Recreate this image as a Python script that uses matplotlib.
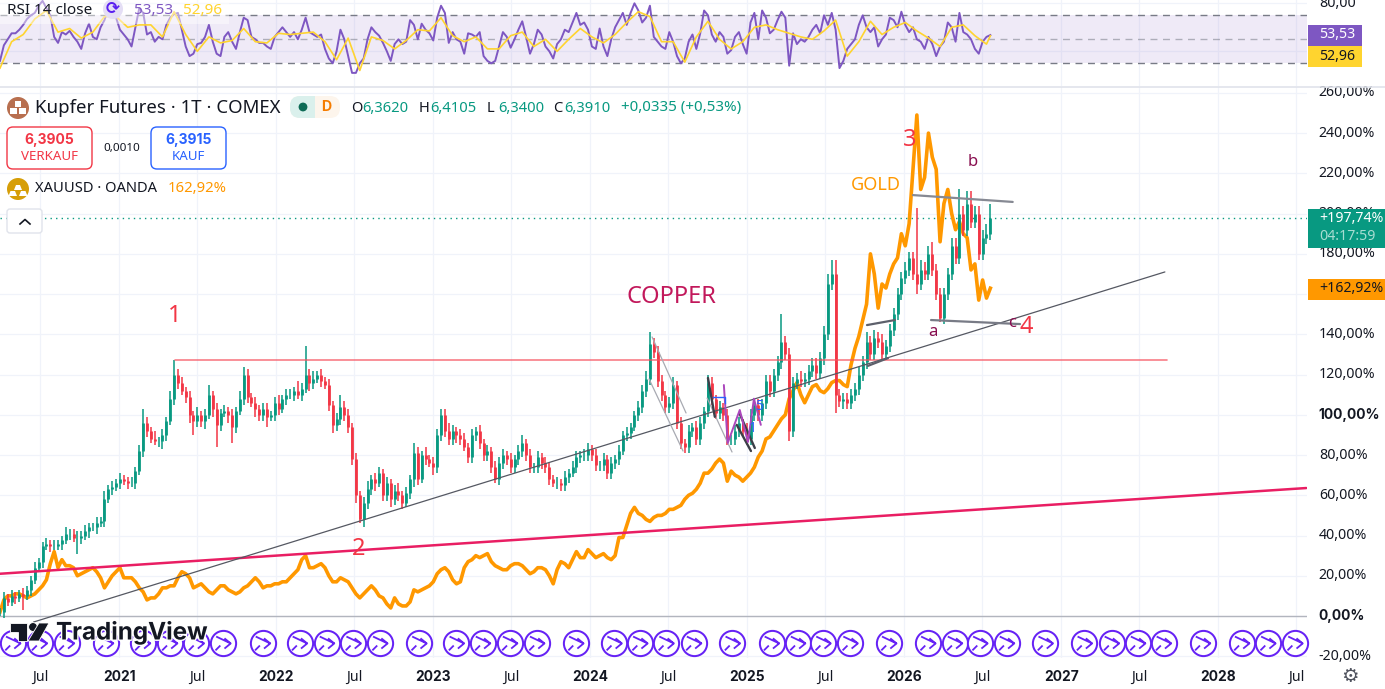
import numpy as np
import pandas as pd
import matplotlib
matplotlib.use("Agg")
import matplotlib.pyplot as plt
import matplotlib.dates as mdates
from matplotlib.patches import FancyBboxPatch, Rectangle, Circle, Polygon
from matplotlib.path import Path
import matplotlib.patheffects as pe

plt.rcParams['font.family'] = ['Noto Sans', 'DejaVu Sans']

# ---- data ----
start_date = '2020-03-29'
bar_days = 9

copper_close = [
 2,9,7,10,9,11,10,13,18,24, 27,35,36,35,35,36,38,41,41,39,
 39,40,42,44,44,46,47,58,63,64, 66,68,67,66,66,72,82,96,92,88,
 87,87,90,97,108,120,116,112,109,100, 97,100,97,100,110,103,95,101,102,100,
 94,102,108,120,109,106,103,100,103,99, 100,106,103,108,110,110,112,110,113,120,
 116,118,120,117,115,105,95,98,104,100, 94,78,60,48,56,63,68,66,71,60,
 66,58,62,60,56,61,68,81,68,80, 78,76,74,90,100,92,88,92,90,88,
 84,79,90,92,86,80,82,74,68,76, 80,78,74,78,82,86,80,74,74,79,
 76,74,68,66,66,65,69,71,74,79, 80,80,83,80,75,75,78,71,76,78,
 82,90,91,94,100,104,112,118,135,131, 117,110,104,106,115,96,86,84,92,94,
 88,96,102,116,108,101,104,100,88,88, 92,96,92,88,100,105,100,106,117,112,
 120,126,136,130,92,116,118,117,118,122, 125,121,128,140,165,170,110,107,108,106,
 110,113,120,126,136,130,138,136,130,134, 142,150,160,168,172,178,170,165,172,170,
 180,172,160,148,160,170,184,178,200,192, 205,196,200,180,188,190,197.74]

copper_wick_up = [
 2,3,2,3,2,2,3,2,2,3, 2,2,3,2,3,2,2,3,2,2,
 3,2,3,2,2,3,2,4,2,3, 2,3,2,2,3,2,3,7,3,2,
 4,2,3,2,4,7,3,3,2,3, 2,4,2,3,5,2,3,2,3,2,
 3,2,4,4,3,2,3,2,3,3, 2,3,4,2,3,3,2,5,3,14,
 3,4,2,3,2,3,2,3,6,3, 3,2,3,2,3,4,2,3,3,2,
 3,2,3,4,2,3,2,5,3,2, 4,2,3,3,3,3,4,3,2,3,
 3,2,3,2,3,2,3,2,3,3, 3,2,3,2,3,4,2,3,2,3,
 2,3,2,2,3,2,3,2,3,3, 2,3,3,2,3,2,3,2,3,2,
 3,2,3,2,2,3,3,4,6,3, 3,3,2,3,4,2,3,2,3,2,
 3,3,2,4,3,2,3,2,3,2, 3,3,2,4,3,2,3,2,3,3,
 3,3,14,3,3,3,3,4,3,3, 3,3,3,4,5,7,7,3,3,3,
 3,3,4,3,5,3,4,3,4,3, 3,3,3,3,4,3,3,33,5,4,
 4,6,3,3,3,3,4,4,12,4, 6,6,4,4,4,5,7]

copper_wick_dn = [
 2,3,2,2,3,2,7,2,3,2, 2,3,2,3,2,2,3,2,3,2,
 8,3,2,3,2,3,2,3,2,3, 2,3,2,3,2,3,2,3,3,2,
 2,3,4,3,2,3,3,2,3,4, 7,3,3,4,2,4,11,3,2,4,
 8,3,2,3,3,2,4,3,3,5, 2,3,3,2,3,2,3,2,3,2,
 4,3,2,3,2,3,4,3,3,3, 3,3,4,2,4,3,3,4,2,3,
 3,4,3,3,3,2,3,4,3,2, 3,2,4,3,3,3,3,3,4,3,
 2,3,3,3,3,3,3,3,2,3, 3,3,3,3,3,3,3,3,3,3,
 3,3,3,2,3,3,3,3,2,3, 3,3,3,3,3,3,3,3,3,3,
 3,2,3,3,2,3,3,3,3,3, 3,3,3,3,3,3,3,3,3,3,
 3,3,3,3,3,3,3,3,3,3, 3,3,3,3,3,3,3,3,3,3,
 3,3,3,3,5,3,3,3,3,3, 3,3,3,3,3,3,9,3,4,3,
 3,3,3,3,3,3,3,3,3,3, 3,3,3,3,3,3,3,5,3,3,
 3,3,3,2,3,3,3,3,3,3, 3,3,3,3,3,3,3]

gold_pct = [
 2,8,10,10,11,11,10,9,10,11, 13,15,18,26,32,24,28,25,25,24,
 20,21,22,23,24,22,19,14,17,20, 22,24,19,19,19,17,14,12,8,9,
 9,11,14,14,15,15,19,22,21,19, 14,15,16,14,12,11,13,15,15,13,
 12,11,12,14,15,17,19,17,14,15, 15,16,16,17,17,19,21,23,28,30,
 24,24,25,26,24,20,17,17,19,18, 17,14,11,9,11,13,15,13,10,9,
 6,4,9,6,5,5,7,13,12,13, 14,15,17,21,23,24,22,18,16,17,
 24,27,28,30,29,30,31,27,25,24, 23,23,25,26,26,25,23,21,22,24,
 24,23,20,16,23,27,26,24,28,32, 29,29,33,31,29,30,31,29,28,30,
 39,39,45,51,54,51,50,48,47,49, 50,50,51,53,53,54,55,58,60,61,
 63,66,71,71,73,76,78,76,67,72, 70,69,67,69,71,74,79,82,88,89,
 92,95,98,100,108,112,116,110,106,110, 114,115,112,111,113,116,117,117,115,114,
 125,133,139,147,155,180,170,153,165,163, 170,175,178,190,184,195,222,249,212,218,
 240,228,222,186,205,212,200,192,196,190, 188,172,175,157,167,158,162.92]

rsi_values = [
 32,45,50,55,55,58,62,67,70,72, 78,82,76,70,52,47,56,54,57,52,
 48,42,55,63,52,50,60,66,76,79, 68,58,54,50,44,60,76,72,54,56,
 48,52,50,62,68,71,72,58,44,36, 38,46,47,52,62,48,38,36,52,56,
 48,42,56,68,66,52,50,47,47,44, 42,52,56,60,56,52,56,50,58,68,
 56,54,52,54,42,34,30,40,58,50, 36,22,22,30,34,50,60,56,53,47,
 40,32,46,50,46,48,66,62,50,63, 58,55,49,68,78,72,47,56,50,48,
 38,55,54,52,56,36,32,30,32,44, 56,52,43,50,58,65,52,38,46,58,
 54,44,40,34,46,50,58,56,64,72, 62,64,58,44,42,59,44,36,50,60,
 66,72,62,72,80,74,64,68,78,52, 48,44,42,56,48,36,30,34,48,54,
 42,55,74,70,54,48,56,52,38,41, 52,56,46,38,64,72,50,74,68,55,
 58,66,73,68,28,55,46,50,48,52, 58,62,55,70,62,72,58,26,32,42,
 46,50,62,70,60,56,60,44,50,54, 68,66,60,73,62,56,60,50,48,42,
 52,46,36,44,48,64,60,48,72,56, 54,50,42,38,48,52,53.53]

# moving average, one value per three bars plus the last bar
rsi_ma = [
 26,48,54,67,74,56,59,51,56,69,69,60,62,62,52,73,54,40,52,47,49,59,48,47,55,54,55,56,48,33,51,
 24,52,49,42,49,58,57,68,53,48,52,42,42,53,56,44,50,40,50,59,52,47,54,64,73,69,48,48,31,
 52,65,50,42,48,60,62,58,55,52,50,57,66,36,48,65,54,60,64,57,51,44,60,62,53,46,52.96]

rollover_dates = [
 '2020-04-28','2020-06-29','2020-08-31','2020-11-30',
 '2021-02-24','2021-04-28','2021-06-29','2021-08-30','2021-11-30',
 '2022-02-24','2022-04-28','2022-06-29','2022-08-30','2022-11-29',
 '2023-02-24','2023-04-26','2023-06-28','2023-08-30','2023-11-29',
 '2024-02-26','2024-04-26','2024-06-26','2024-08-29','2024-11-27',
 '2025-02-26','2025-04-28','2025-06-26','2025-08-28','2025-11-26',
 '2026-02-25','2026-04-28','2026-06-26','2026-08-27','2026-11-25',
 '2027-02-24','2027-04-28','2027-06-28','2027-08-27','2027-11-26',
 '2028-02-25','2028-04-26','2028-06-28']

month_ticks = ['2020-07-01','2021-07-01','2022-07-01','2023-07-01','2024-07-01',
               '2025-07-01','2026-07-01','2027-07-01','2028-07-01']
year_ticks = ['2021-01-01','2022-01-01','2023-01-01','2024-01-01',
              '2025-01-01','2026-01-01','2027-01-01','2028-01-01']
pct_ticks = [-20,0,20,40,60,80,100,120,140,160,180,200,220,240,260]

# drawings: (date, percent) end points
trend_main = [('2020-06-15',-3),('2027-08-30',171)]
trend_long = [('2020-03-29',21),('2028-07-24',63.6)]
resist_h = [('2021-05-10',127.2),('2027-09-04',127.2)]
gold_top = [('2026-01-21',209.2),('2026-09-10',205.8)]
wave_low = [('2026-03-04',147.1),('2026-09-27',145.1)]
chan_up = [('2025-10-06',144.6),('2025-12-10',147.1)]
chan_dn = [('2025-10-08',124.3),('2025-11-24',128.2)]
fade_lines = [
 [('2024-05-24',138.7),('2024-08-11',100.9)],
 [('2024-05-17',117.8),('2024-08-04',82)],
 [('2024-09-29',108.3),('2024-11-26',81.5)]]
dark_lines = [
 [('2024-10-01',118.3),('2024-10-17',99)],
 [('2024-12-14',100.4),('2025-01-18',83.5)],
 [('2024-12-07',95),('2025-01-09',82)]]
zigzag = [('2024-11-07',114.8),('2024-11-16',86),('2024-12-14',102.4),('2025-01-02',86.5),('2025-01-16',108),('2025-02-01',95)]

dates = pd.date_range(start_date, periods=len(copper_close), freq=f'{bar_days}D')
ma_index = list(range(0, len(dates) - 1, 3)) + [len(dates) - 1]

W, H = 1385, 689
fig = plt.figure(figsize=(W / 100, H / 100), dpi=100, facecolor='white')

def ax_px(l, t, r, b):
    return fig.add_axes([l / W, 1 - b / H, (r - l) / W, (b - t) / H])

px_per_day = 157 / 365.25
x0 = mdates.date2num(pd.Timestamp('2021-01-01')) - 119.5 / px_per_day
x1 = x0 + 1307 / px_per_day

GRID = '#f0f3fa'
TXT = '#131722'
UP, DOWN = '#089981', '#f23645'
tick_fs = 10.2
BOLD = 'Inter'

# ---- main pane ----
ax = ax_px(0, 87, 1307, 658)
ax.set_xlim(x0, x1)
ax.set_ylim((616 - 658) / 2.012, (616 - 87) / 2.012)
for s in ax.spines.values():
    s.set_visible(False)
ax.set_axisbelow(True)
ax.grid(True, color=GRID, lw=0.9)
ax.set_yticks(pct_ticks)
ax.set_yticklabels([f'{v},00%' for v in pct_ticks])
ax.yaxis.tick_right()
ax.tick_params(axis='y', length=0, pad=8.5, labelsize=tick_fs, labelcolor=TXT)
for lab, v in zip(ax.get_yticklabels(), pct_ticks):
    lab.set_va('center')
    if v in (0, 100):
        lab.set_fontweight('bold')
        lab.set_family(BOLD)
        lab.set_fontsize(9.9)
xt = sorted(pd.to_datetime(month_ticks + year_ticks))
ax.set_xticks([mdates.date2num(t) for t in xt])
ax.set_xticklabels([str(t.year) if t.month == 1 else 'Jul' for t in xt])
ax.tick_params(axis='x', length=0, pad=8.6, labelsize=tick_fs, labelcolor=TXT)
for lab, t in zip(ax.get_xticklabels(), xt):
    if t.month == 1:
        lab.set_fontweight('bold')
        lab.set_family(BOLD)
        lab.set_fontsize(9.9)
ax.axhline(0, color='#b2b5be', lw=1, zorder=1.5)
ax.axhline(197.74, color=UP, lw=1, ls=(0, (1, 3)), zorder=1.5)

ax.plot(dates, gold_pct, color='#ff9800', lw=2.6, zorder=2, solid_joinstyle='round')

close = np.array(copper_close, float)
opens = np.r_[close[0], close[:-1]]
hi = np.maximum(opens, close) + np.array(copper_wick_up)
lo = np.minimum(opens, close) - np.array(copper_wick_dn)
cols = [UP if c >= o else DOWN for o, c in zip(opens, close)]
ax.vlines(dates, lo, hi, colors=cols, lw=1.1, zorder=3)
ax.vlines(dates, opens, close, colors=cols, lw=2.0, zorder=3)

def seg(pts, **kw):
    ax.plot([pd.Timestamp(p[0]) for p in pts], [p[1] for p in pts], solid_capstyle='round', **kw)

seg(resist_h, color='#f7525f', lw=1.2, alpha=.75, zorder=4)
seg(trend_long, color='#e91e63', lw=1.8, zorder=4)
seg(trend_main, color='#555862', lw=0.9, zorder=4)
seg(gold_top, color='#868993', lw=1.6, zorder=4)
seg(wave_low, color='#787b86', lw=1.6, zorder=4)
seg(chan_up, color='#5d606b', lw=1.6, zorder=4)
seg(chan_dn, color='#5d606b', lw=1.6, zorder=4)
for l in fade_lines:
    seg(l, color='#a8aab2', lw=0.9, zorder=4)
for l in dark_lines:
    seg(l, color='#3c3f48', lw=1.7, zorder=4)
seg(zigzag, color='#ab47bc', lw=1.4, zorder=4)

# contract roll markers
icon = Path([(-.5, .45), (.55, -.05), (.1, -.42), (.55, -.05), (.1, .32), (-.55, -.55), (-.2, -.2)],
            [Path.MOVETO, Path.LINETO, Path.MOVETO, Path.LINETO, Path.LINETO, Path.MOVETO, Path.LINETO])
rd = pd.to_datetime(rollover_dates)
ICON = '#6622f5'
ax.scatter(rd, [-13.3] * len(rd), s=330, facecolor='white', edgecolor=ICON, lw=1.45, zorder=6, clip_on=False)
ax.scatter(rd, [-13.3] * len(rd), s=120, marker=icon, facecolor='none', edgecolor=ICON, lw=1.3, zorder=7, clip_on=False)

# ---- RSI pane ----
rx = ax_px(0, 0, 1307, 86)
rx.set_xlim(x0, x1)
rx.set_ylim(50 + (39.3 - 86) / 1.2, 50 + 39.3 / 1.2)
for s in rx.spines.values():
    s.set_visible(False)
rx.set_axisbelow(True)
rx.set_xticks([mdates.date2num(t) for t in xt])
rx.set_xticklabels([])
rx.set_yticks([40, 80])
rx.set_yticklabels(['', '80,00'])
rx.yaxis.tick_right()
rx.tick_params(axis='both', length=0, pad=8.5, labelsize=tick_fs, labelcolor=TXT)
for lab in rx.get_yticklabels():
    lab.set_va('center')
rx.grid(True, color=GRID, lw=0.9)
rx.axhspan(30, 70, color='#7e57c2', alpha=.12, lw=0, zorder=1)
rx.axhline(70, color='#787b86', lw=1, ls=(0, (5, 4)), zorder=2)
rx.axhline(50, color='#787b86', lw=1, ls=(0, (5, 4)), alpha=.55, zorder=2)
rx.axhline(30, color='#787b86', lw=1, ls=(0, (5, 4)), zorder=2)
rx.plot(dates, rsi_values, color='#7e57c2', lw=1.4, zorder=3)
rx.plot(dates[ma_index], rsi_ma, color='#ffd42f', lw=1.2, zorder=4)

# ---- interface layer in pixel space ----
ui = fig.add_axes([0, 0, 1, 1], facecolor='none')
ui.set_xlim(0, W)
ui.set_ylim(H, 0)
ui.axis('off')

def T(x, y, s, size=10, color=TXT, ha='left', weight='normal', **kw):
    return ui.text(x, y, s, fontsize=size, color=color, ha=ha, va='center', fontweight=weight, **kw)

def box(l, t, r, b, fc='white', ec='none', lw=1, rad=4):
    p = FancyBboxPatch((l + rad, t + rad), r - l - 2 * rad, b - t - 2 * rad,
                       boxstyle=f'round,pad={rad},rounding_size={rad}', fc=fc, ec=ec, lw=lw)
    ui.add_patch(p)

ui.plot([0, W], [86.5, 86.5], color='#e0e3eb', lw=1.2)
ui.add_patch(Rectangle((0, 0), 229, 24, fc='white', alpha=.45, lw=0))
T(7, 10, 'RSI 14 close', 11)
ui.add_patch(Circle((113, 9), 10, fc='#e4def5', lw=0))
T(113, 9, '\u27f3', 12, color='#5a1ff0', ha='center', family='DejaVu Sans', weight='bold')
T(134, 10, '53,53', 11, color='#7e57c2')
T(183, 10, '52,96', 11, color='#ffd42f')

# instrument row
ui.add_patch(Circle((18, 108), 11, fc='#b86f4f', lw=0))
for cx, cy in [(18, 103.5), (13.5, 111), (22.5, 111)]:
    ui.add_patch(Rectangle((cx - 3.2, cy - 3), 6.4, 6, fc='white', lw=0))
T(35, 108, 'Kupfer Futures \u00b7 1T \u00b7 COMEX', 13.4)
box(290, 96, 340, 118, fc='#fdf5ec', rad=10)
box(290, 96, 315, 118, fc='#daf0ec', rad=10)
ui.add_patch(Rectangle((305, 96), 10, 22, fc='#daf0ec', lw=0))
ui.add_patch(Circle((303, 107), 4.4, fc='#0d6b56', lw=0))
T(326, 107, 'D', 10.2, color='#f57c00', ha='center', weight='bold', family=BOLD)
for x, a, val in [(351, 'O', '6,3620'), (419, 'H', '6,4105'), (487, 'L', '6,3400'), (553, 'C', '6,3910')]:
    T(x, 108, a, 10.6)
    T(x + 11, 108, val, 10.6, color=UP)
T(621, 108, '+0,0335 (+0,53%)', 10.9, color=UP)

# order buttons
box(7, 127, 92, 169, ec=DOWN, lw=1, rad=6)
T(49.5, 140, '6,3905', 10, color=DOWN, ha='center', weight='bold', family=BOLD)
T(49.5, 157, 'VERKAUF', 9.6, color=DOWN, ha='center')
T(122, 148, '0,0010', 8.4, color=TXT, ha='center')
box(151, 127, 226, 169, ec='#2962ff', lw=1, rad=6)
T(188.5, 140, '6,3915', 10, color='#2962ff', ha='center', weight='bold', family=BOLD)
T(188.5, 157, 'KAUF', 9.6, color='#2962ff', ha='center')

# second symbol row
ui.add_patch(Circle((18, 189), 11, fc='#d69e08', lw=0))
for poly in [[(14, 190), (22, 190), (20, 185), (16, 185)], [(8.5, 196), (17, 196), (15, 191), (10.5, 191)],
             [(19, 196), (27.5, 196), (25.5, 191), (21, 191)]]:
    ui.add_patch(Polygon(poly, fc='white', lw=0))
T(35, 189, 'XAUUSD \u00b7 OANDA', 10.6)
T(168, 189, '162,92%', 10.7, color='#ff9800')
box(7, 209, 42, 233, ec='#e0e3eb', lw=1, rad=3)
ui.plot([20, 25, 30], [224, 219.5, 224], color=TXT, lw=1.2)

# chart labels
RED = '#f23645'
T(175, 316, '1', 17, color=RED, ha='center')
T(359, 549, '2', 17, color=RED, ha='center')
T(910, 140, '3', 17, color=RED, ha='center')
T(1026, 327, '4', 17, color=RED, ha='center')
T(671, 297, 'COPPER', 17, color='#c2185b', ha='center')
T(875.5, 185, 'GOLD', 13, color='#ff9800', ha='center')
T(933, 332, 'a', 12, color='#880e4f', ha='center')
T(973, 162, 'b', 12, color='#880e4f', ha='center')
T(1012, 323, 'c', 12, color='#880e4f', ha='center')
T(759, 406, '5', 10, color='#2962ff', ha='center')
T(753, 429, '1', 10, color='#2962ff', ha='center')
ui.plot([713, 725, 725], [397, 397, 403], color='#2962ff', lw=1)

# price tags
ui.add_patch(Rectangle((1308, 25), 54, 21, fc='#7e57c2', lw=0))
ui.add_patch(Rectangle((1308, 46), 54, 21, fc='#ffd42f', lw=0))
T(1319, 35, '53,53', tick_fs, color='white')
T(1319, 56.5, '52,96', tick_fs, color=TXT)
ui.add_patch(Rectangle((1308, 209), 77, 39, fc=UP, lw=0))
T(1319, 219, '+197,74%', tick_fs, color='white')
T(1319, 236, '04:17:59', tick_fs, color='#a8ddd2')
ui.add_patch(Rectangle((1308, 279), 77, 21, fc='#ff9800', lw=0))
T(1319, 289, '+162,92%', tick_fs, color=TXT)
T(1350, 676, '\u2699', 14, color='#50535e', ha='center', family='DejaVu Sans')

# logo
halo = [pe.withStroke(linewidth=2, foreground='white')]
ui.add_patch(Polygon([(10, 623), (27, 623), (27, 641), (18, 641), (18, 632), (10, 632)], fc='#131722', ec='white', lw=.6, zorder=8))
ui.add_patch(Circle((33, 627), 4.4, fc='#131722', ec='white', lw=.6, zorder=8))
ui.add_patch(Polygon([(39, 623), (49, 623), (39, 641), (28, 641)], fc='#131722', ec='white', lw=.6, zorder=8))
T(56, 633, 'TradingView', 17.4, color='#131722', weight='bold', family='Inter', path_effects=halo, zorder=8)

fig.savefig('out.png', dpi=100, facecolor='white')
